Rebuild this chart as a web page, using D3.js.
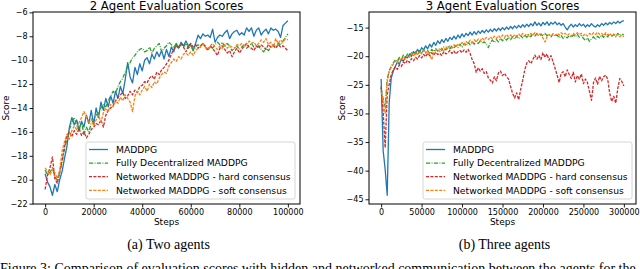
<!DOCTYPE html>
<html><head><meta charset="utf-8">
<script src="https://cdn.jsdelivr.net/npm/d3@7"></script>
<style>
html,body{margin:0;padding:0;background:#fff;overflow:hidden;}
svg{display:block;}
text{font-family:"DejaVu Sans",sans-serif;fill:#000;}
</style></head>
<body>
<svg id="chart" width="640" height="269"></svg>
<script>
// ---------- DATA ----------
const seriesNames = ["MADDPG", "Fully Decentralized MADDPG", "Networked MADDPG - hard consensus", "Networked MADDPG - soft consensus"];
const seriesColors = ["#1f77b4", "#2ca02c", "#d62728", "#ff7f0e"];

// 2 agents: steps 0..100000 every 1000
const steps2 = d3.range(0, 100001, 1000);
const blue2 = [-19.5,-20.2,-20.6,-21.3,-20.4,-21.0,-20.0,-19.3,-18.2,-17.2,-15.6,-14.8,-15.4,-15.0,-15.8,-15.1,-15.6,-14.6,-15.3,-14.2,-15.4,-14.0,-14.8,-13.5,-14.2,-13.2,-13.9,-13.0,-13.6,-12.6,-13.2,-12.2,-12.8,-11.6,-10.2,-11.4,-11.9,-10.6,-11.2,-10.3,-10.9,-10.0,-9.8,-10.3,-9.5,-9.9,-9.3,-9.7,-9.2,-9.9,-9.1,-9.7,-8.9,-9.3,-8.6,-9.0,-8.5,-8.8,-8.4,-8.8,-8.7,-9.2,-8.6,-7.9,-8.2,-7.8,-8.0,-7.9,-8.1,-7.4,-8.5,-8.1,-7.9,-8.0,-7.7,-7.5,-8.2,-7.8,-7.6,-7.5,-7.9,-7.7,-7.9,-7.3,-7.6,-7.3,-8.0,-7.5,-7.3,-7.9,-7.6,-7.4,-7.8,-7.3,-7.5,-7.4,-7.6,-8.1,-7.1,-6.9,-6.7];
const green2 = [-19.2,-19.6,-19.4,-19.0,-19.8,-20.0,-19.4,-18.5,-17.4,-16.6,-15.8,-15.2,-14.8,-15.5,-15.9,-15.2,-16.2,-15.6,-16.0,-15.3,-15.0,-14.6,-14.4,-14.0,-13.7,-13.9,-13.4,-13.0,-12.6,-12.8,-12.2,-11.8,-11.5,-11.0,-10.5,-10.2,-9.8,-9.6,-9.3,-9.1,-9.0,-9.3,-9.2,-8.9,-9.4,-9.0,-8.8,-8.6,-9.3,-9.0,-8.8,-8.5,-8.7,-9.0,-8.6,-8.9,-8.7,-8.9,-8.6,-9.0,-8.8,-9.2,-8.9,-8.7,-8.9,-8.6,-8.8,-9.1,-8.9,-9.0,-8.7,-8.5,-8.7,-8.5,-8.9,-8.6,-8.8,-9.2,-9.0,-8.8,-9.1,-8.9,-8.7,-9.0,-8.8,-8.6,-8.9,-9.0,-8.8,-9.1,-9.3,-9.0,-9.2,-8.9,-8.7,-8.9,-8.6,-8.7,-8.4,-8.1,-7.8];
const red2 = [-20.8,-19.6,-19.0,-18.1,-19.9,-20.3,-19.4,-18.3,-17.2,-16.3,-16.0,-16.4,-15.9,-16.2,-15.7,-16.3,-16.0,-16.5,-16.2,-15.8,-15.6,-15.3,-15.4,-15.0,-15.6,-14.6,-14.2,-14.0,-13.8,-13.4,-13.1,-12.9,-12.7,-13.2,-13.0,-12.6,-12.9,-12.5,-12.7,-12.2,-12.1,-11.8,-11.9,-11.5,-11.3,-11.6,-11.0,-11.2,-10.8,-10.6,-10.3,-10.0,-9.5,-9.1,-8.8,-9.0,-8.6,-8.9,-9.3,-8.8,-8.6,-8.9,-8.7,-9.0,-8.8,-8.6,-8.9,-9.2,-8.8,-9.0,-9.3,-9.6,-9.0,-8.8,-9.1,-9.4,-9.2,-9.7,-9.3,-9.0,-9.4,-9.1,-8.8,-8.6,-8.9,-9.0,-9.2,-8.8,-9.0,-8.7,-8.9,-9.1,-8.7,-8.9,-8.8,-9.0,-8.7,-8.9,-8.8,-9.0,-9.2];
const orange2 = [-19.0,-19.3,-19.6,-19.1,-19.4,-19.9,-19.2,-17.6,-16.8,-16.2,-16.6,-15.9,-15.5,-15.8,-15.2,-14.8,-14.3,-14.7,-15.3,-14.9,-15.5,-15.0,-14.6,-15.2,-14.4,-14.0,-14.3,-13.7,-13.9,-13.4,-13.6,-13.1,-13.4,-12.9,-13.2,-13.5,-14.3,-13.0,-12.6,-12.9,-12.5,-12.2,-12.6,-12.0,-12.3,-11.8,-12.0,-11.5,-11.2,-11.0,-11.1,-10.5,-10.2,-9.9,-10.1,-9.7,-9.9,-9.5,-9.4,-9.6,-9.3,-9.6,-9.2,-9.0,-8.9,-8.6,-8.9,-9.1,-8.8,-8.6,-8.9,-9.1,-8.8,-9.0,-8.7,-9.0,-8.8,-8.9,-9.0,-8.7,-8.8,-8.6,-8.9,-8.7,-8.4,-8.6,-8.5,-8.8,-8.6,-8.3,-8.5,-8.2,-8.7,-8.5,-8.9,-8.2,-8.6,-8.3,-8.5,-8.2,-8.3];

// 3 agents: steps 0..300000 every 2500
const steps3 = d3.range(0, 300001, 2500);
const blue3 = [-24.0,-36.5,-39.8,-44.3,-28.0,-23.8,-22.6,-21.8,-21.0,-21.4,-20.5,-20.9,-20.1,-20.3,-19.6,-20.0,-19.2,-19.6,-18.8,-19.4,-18.5,-18.9,-18.2,-18.7,-17.9,-18.4,-17.6,-18.1,-17.3,-17.8,-17.1,-17.6,-16.9,-17.4,-16.7,-17.1,-16.5,-17.0,-16.3,-16.8,-16.1,-16.6,-16.0,-16.4,-15.8,-16.3,-15.7,-16.2,-15.6,-16.0,-15.5,-15.9,-15.4,-15.8,-15.3,-15.7,-15.2,-15.6,-15.1,-15.5,-15.0,-15.4,-14.9,-15.3,-14.8,-15.2,-14.7,-15.1,-14.6,-15.0,-14.5,-14.9,-14.4,-14.8,-14.3,-14.7,-14.0,-14.6,-14.2,-14.7,-14.1,-14.5,-14.0,-14.6,-14.1,-14.4,-14.0,-14.5,-14.2,-14.6,-14.3,-14.9,-15.4,-14.8,-14.4,-14.9,-14.5,-14.8,-14.3,-14.7,-14.4,-14.9,-14.5,-14.8,-14.3,-14.7,-14.9,-14.5,-14.8,-14.3,-14.6,-14.2,-14.5,-14.1,-14.4,-14.0,-14.3,-13.9,-14.2,-13.9,-13.8];
const green3 = [-25.6,-27.5,-28.8,-24.0,-22.5,-21.8,-21.2,-20.6,-20.9,-20.2,-20.6,-19.8,-20.3,-19.6,-20.0,-19.4,-19.9,-19.2,-19.7,-19.0,-19.5,-18.9,-19.3,-19.0,-19.6,-18.8,-19.2,-18.7,-19.1,-18.6,-19.0,-18.4,-18.9,-18.3,-18.7,-18.2,-18.6,-18.1,-18.5,-17.9,-18.4,-17.8,-18.2,-17.6,-18.0,-17.5,-17.9,-17.4,-17.8,-17.3,-17.7,-17.5,-17.9,-18.5,-17.6,-17.2,-17.6,-17.1,-17.5,-16.9,-17.3,-16.8,-17.2,-16.7,-17.1,-16.6,-17.0,-16.5,-16.9,-16.4,-16.8,-16.3,-16.7,-16.2,-16.6,-16.1,-16.5,-16.0,-16.4,-16.1,-16.5,-16.0,-16.4,-16.2,-16.6,-16.1,-16.5,-16.3,-16.8,-16.4,-16.9,-16.5,-16.8,-16.4,-16.7,-16.3,-16.6,-16.2,-16.7,-16.4,-16.9,-17.2,-16.8,-17.4,-17.0,-16.6,-17.1,-16.5,-16.8,-16.3,-16.7,-16.2,-16.6,-16.1,-16.5,-16.2,-16.6,-16.0,-16.4,-16.1,-16.3];
const red3 = [-25.3,-29.7,-36.0,-26.7,-24.9,-23.2,-22.4,-21.9,-22.3,-21.5,-21.8,-21.0,-21.3,-20.7,-21.1,-20.4,-20.8,-20.2,-20.5,-19.9,-20.3,-19.7,-20.1,-19.5,-19.9,-19.4,-19.8,-19.3,-19.7,-19.5,-19.9,-19.2,-19.6,-19.4,-19.0,-19.5,-19.1,-19.6,-19.2,-19.0,-19.4,-18.9,-19.3,-18.8,-19.5,-20.6,-21.3,-22.8,-22.0,-22.6,-22.2,-23.0,-22.7,-23.8,-24.2,-24.7,-23.6,-24.3,-22.9,-22.6,-23.4,-23.0,-23.6,-24.0,-25.3,-26.5,-27.3,-26.4,-27.6,-25.8,-24.2,-22.4,-21.2,-20.8,-21.3,-20.6,-19.8,-20.5,-19.9,-20.6,-19.4,-20.2,-19.6,-20.7,-19.9,-21.0,-22.1,-23.3,-24.6,-23.0,-22.7,-23.6,-22.4,-23.2,-23.9,-22.8,-24.5,-23.4,-24.0,-23.1,-24.8,-24.0,-24.6,-26.2,-27.7,-24.6,-23.8,-24.9,-23.5,-24.3,-23.6,-23.3,-24.0,-26.5,-27.9,-27.0,-28.2,-25.6,-23.9,-24.4,-25.2];
const orange3 = [-26.2,-28.0,-30.0,-24.5,-22.7,-21.9,-21.4,-20.8,-21.1,-20.4,-20.8,-20.1,-20.5,-19.8,-20.2,-19.5,-20.0,-19.3,-19.8,-19.2,-19.6,-19.0,-19.5,-19.1,-19.8,-20.6,-19.4,-19.0,-18.8,-19.2,-18.6,-19.0,-18.4,-18.8,-18.2,-18.6,-18.0,-18.4,-17.8,-18.2,-17.6,-18.0,-17.4,-17.8,-17.2,-17.6,-17.1,-17.5,-17.0,-17.3,-16.8,-17.2,-16.7,-17.1,-16.6,-17.0,-16.5,-16.9,-16.4,-16.8,-16.3,-16.7,-16.2,-16.6,-16.3,-16.7,-16.2,-16.5,-16.1,-16.5,-16.0,-16.4,-16.1,-16.5,-16.0,-16.3,-15.9,-16.3,-16.0,-16.4,-16.8,-17.5,-16.6,-16.2,-16.5,-16.1,-16.4,-16.0,-16.3,-15.9,-16.2,-16.0,-16.4,-16.1,-16.5,-16.0,-16.3,-15.9,-16.2,-16.0,-16.4,-16.1,-16.5,-16.0,-16.3,-15.9,-16.2,-15.8,-16.2,-16.0,-16.4,-15.9,-16.3,-16.0,-16.4,-16.1,-16.5,-16.2,-16.6,-16.3,-16.6];

const xTicks2 = [0, 20000, 40000, 60000, 80000, 100000];
const yTicks2 = [-22, -20, -18, -16, -14, -12, -10, -8, -6];
const xTicks3 = [0, 50000, 100000, 150000, 200000, 250000, 300000];
const yTicks3 = [-45, -40, -35, -30, -25, -20, -15];

const titles = ["2 Agent Evaluation Scores", "3 Agent Evaluation Scores"];
const captions = ["(a) Two agents", "(b) Three agents"];
const xLabel = "Steps", yLabel = "Score";
const figText = "Figure 3: Comparison of evaluation scores with hidden and networked communication between the agents for the";

// ---------- DRAW ----------
const svg = d3.select("#chart");
const dashes = [null, "4.2,1.4,0.9,1.4", "3,1.4", "3,1.4"];
const fmt = v => String(v).replace("-", "\u2212");

function pad(ext, f) { const r = ext[1] - ext[0]; return [ext[0] - r * f, ext[1] + r * f]; }

function panel(cfg) {
  const {left, right, top, bottom, steps, series, xTicks, yTicks, title, caption, legendX, id} = cfg;
  const x = d3.scaleLinear().domain(pad(d3.extent(steps), 0.05)).range([left, right]);
  const allV = series.flat();
  const y = d3.scaleLinear().domain(pad(d3.extent(allV), 0.05)).range([bottom, top]);
  const g = svg.append("g");

  g.append("clipPath").attr("id", id).append("rect")
    .attr("x", left).attr("y", top).attr("width", right - left).attr("height", bottom - top);

  const line = d3.line().x((d, i) => x(steps[i])).y(d => y(d));
  const lg = g.append("g").attr("clip-path", `url(#${id})`);
  series.forEach((s, k) => {
    lg.append("path").datum(s).attr("d", line)
      .attr("fill", "none").attr("stroke", seriesColors[k]).attr("stroke-width", 1.3)
      .attr("stroke-linejoin", "round")
      .attr("stroke-dasharray", dashes[k]);
  });

  // axes
  const xa = g.append("g").attr("transform", `translate(0,${bottom})`)
    .call(d3.axisBottom(x).tickValues(xTicks).tickSize(3.5).tickPadding(2).tickFormat(d => String(d)));
  const ya = g.append("g").attr("transform", `translate(${left},0)`)
    .call(d3.axisLeft(y).tickValues(yTicks).tickSize(3.5).tickPadding(2).tickFormat(fmt));
  [xa, ya].forEach(a => {
    a.select(".domain").remove();
    a.selectAll("line").attr("stroke", "#000").attr("stroke-width", 0.9);
    a.selectAll("text").attr("font-family", "DejaVu Sans").attr("font-size", 8).attr("fill", "#000");
  });

  g.append("rect").attr("x", left).attr("y", top).attr("width", right - left).attr("height", bottom - top)
    .attr("fill", "none").attr("stroke", "#000").attr("stroke-width", 1);

  const cx = (left + right) / 2;
  g.append("text").attr("x", cx).attr("y", 9.5).attr("text-anchor", "middle").attr("font-size", 11.7).text(title);
  g.append("text").attr("x", cx).attr("y", 225).attr("text-anchor", "middle").attr("font-size", 9).text(xLabel);
  g.append("text").attr("transform", `translate(${left - 24.5},${(top + bottom) / 2}) rotate(-90)`)
    .attr("text-anchor", "middle").attr("font-size", 9).text(yLabel);
  g.append("text").attr("x", cx + 2).attr("y", 249).attr("text-anchor", "middle")
    .style("font-family", "Liberation Serif").attr("font-size", 14).text(caption);

  // legend
  const lw = 209, lh = 57, ly = 142;
  const leg = g.append("g");
  leg.append("rect").attr("x", legendX).attr("y", ly).attr("width", lw).attr("height", lh).attr("rx", 2)
    .attr("fill", "#fff").attr("fill-opacity", 0.8).attr("stroke", "#cccccc").attr("stroke-width", 0.8);
  seriesNames.forEach((n, k) => {
    const yy = ly + 7.5 + k * 13.6;
    leg.append("line").attr("x1", legendX + 3).attr("x2", legendX + 22).attr("y1", yy).attr("y2", yy)
      .attr("stroke", seriesColors[k]).attr("stroke-width", 1.3).attr("stroke-dasharray", dashes[k]);
    leg.append("text").attr("x", legendX + 30).attr("y", yy + 3.3).attr("font-size", 9.2).text(n);
  });
}

panel({left: 33, right: 300, top: 12, bottom: 204, steps: steps2,
  series: [blue2, green2, red2, orange2], xTicks: xTicks2, yTicks: yTicks2,
  title: titles[0], caption: captions[0], legendX: 86, id: "clipA"});
panel({left: 369, right: 636, top: 12, bottom: 204, steps: steps3,
  series: [blue3, green3, red3, orange3], xTicks: xTicks3, yTicks: yTicks3,
  title: titles[1], caption: captions[1], legendX: 423, id: "clipB"});

svg.append("text").attr("x", 0).attr("y", 273).style("font-family", "Liberation Serif")
  .attr("font-size", 14).text(figText);
</script>
</body></html>
